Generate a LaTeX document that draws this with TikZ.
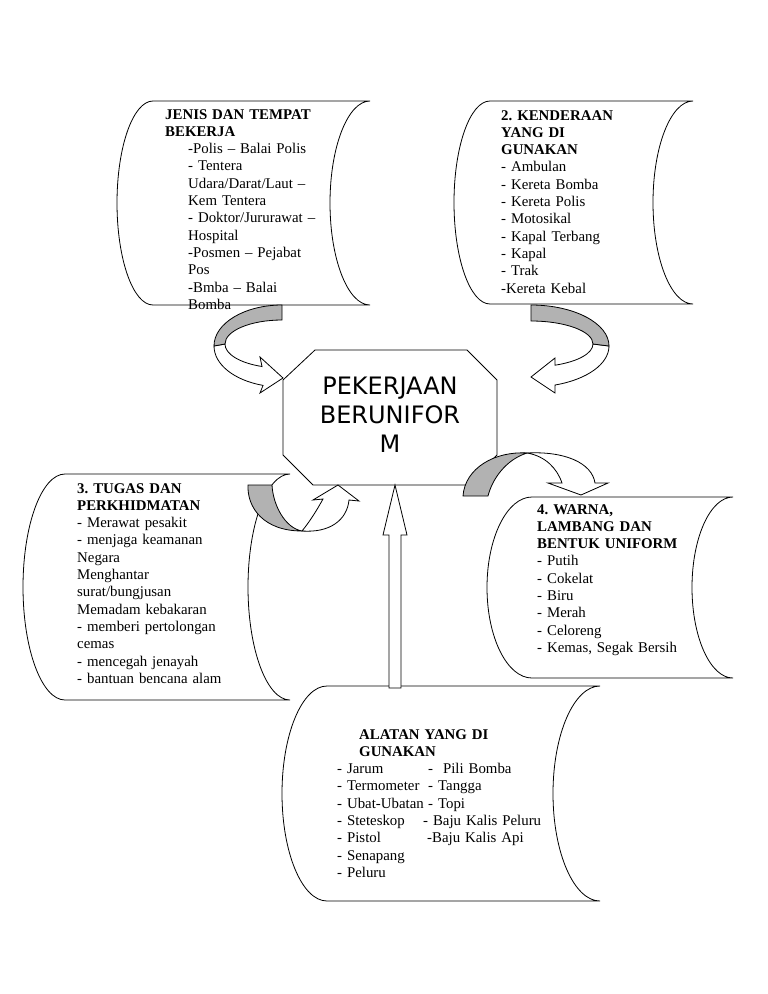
\documentclass[tikz,border=0pt]{standalone}
\usepackage{fontspec}
\setmainfont{Liberation Serif}
\newfontfamily\octfont{DejaVu Sans}
\frenchspacing
\definecolor{band}{RGB}{178,178,178}
\tikzset{
  shp/.style={draw=black, line width=0.8pt, fill=white, line join=miter},
  backband/.style={draw=black, line width=0.8pt, fill=band},
  txt/.style={anchor=base west, inner sep=0pt, text width=280pt, align=left,
              font=\fontsize{14.85}{17.3}\selectfont},
  octtxt/.style={anchor=base, inner sep=0pt, text width=210pt, align=center,
              font=\octfont\fontsize{24}{29}\selectfont},
}
% #1 corner x, #2 right x, #3 top y, #4 bottom y, #5 left bulge, #6 right bulge
\newcommand\scrollshape[6]{%
  \draw[shp] (#1,#3) -- (#2,#3)
    arc[start angle=270, end angle=90, x radius=#6, y radius={(#4-#3)/2}]
    -- (#1,#4)
    arc[start angle=90, end angle=270, x radius=#5, y radius={(#4-#3)/2}]
    -- cycle;}
\begin{document}
\begin{tikzpicture}[x=1pt,y=-1pt]
\useasboundingbox (0,0) rectangle (768,994);
\fill[white] (0,0) rectangle (768,994);

% scrolls
\scrollshape{153}{370}{101}{305}{36}{40}
\scrollshape{490}{693}{101}{304}{36}{40}
\scrollshape{65}{290}{474}{700}{42}{42}
\scrollshape{532}{733}{497}{678}{45}{41}
\scrollshape{327}{600}{686}{901}{45}{47}

% central octagon
\draw[shp] (315,350) -- (467,350) -- (497,380) -- (497,455) -- (467,485)
  -- (313,485) -- (283,455) -- (283,380) -- cycle;

% curved arrow 1 (top left)
\draw[shp] (214,346) arc[start angle=180, end angle=106.2, x radius=68, y radius=41]
  -- (260,393) -- (283,378) -- (260,357) -- (262,366.5)
  arc[start angle=110.5, end angle=180, x radius=57, y radius=24] -- cycle;
\draw[backband] (282,305) arc[start angle=270, end angle=180, x radius=68, y radius=41]
  -- (225,344) arc[start angle=180, end angle=270, x radius=57, y radius=24] -- cycle;

% curved arrow 2 (top right)
\draw[shp] (609,346) arc[start angle=0, end angle=72, x radius=78, y radius=41]
  -- (555,393) -- (531,377) -- (555,358) -- (555,365.2)
  arc[start angle=67.2, end angle=0, x radius=62, y radius=23] -- cycle;
\draw[backband] (531,305) arc[start angle=270, end angle=360, x radius=78, y radius=41]
  -- (593,344) arc[start angle=360, end angle=270, x radius=62, y radius=23] -- cycle;

% curved arrow 3 (left, pointing up)
\draw[backband] (248,485) -- (272,485) .. controls (273,505) and (285,528) .. (302,531)
  .. controls (264,531) and (247,508) .. (248,485) -- cycle;
\draw[shp] (302,531) .. controls (311,520) and (318,508) .. (323,499)
  -- (313,500) -- (338,485) -- (359,501) -- (349,500)
  .. controls (347,520) and (330,533) .. (302,531) -- cycle;

% curved arrow 4 (right, pointing down)
\draw[backband] (463,496) -- (488,496) .. controls (492,480) and (505,460) .. (527,453)
  .. controls (495,451) and (465,468) .. (463,496) -- cycle;
\draw[shp] (527,453) .. controls (565,451) and (592,463) .. (595,483)
  -- (608,483) -- (581,495) -- (548,483) -- (562,483)
  .. controls (557,468) and (545,456) .. (527,453) -- cycle;

% straight arrow up
\draw[shp] (389,688) -- (389,535) -- (383,535) -- (395,485) -- (407,535)
  -- (401,535) -- (401,688) -- cycle;

% texts
\node[octtxt] (oct) at (390,394) {PEKERJAAN\\BERUNIFOR\\M};

\node[txt] (ta) at (165,119) {\textbf{JENIS DAN TEMPAT}\\
\textbf{BEKERJA}\\
\hspace*{23pt}-Polis – Balai Polis\\
\hspace*{23pt}- Tentera\\
\hspace*{23pt}Udara/Darat/Laut –\\
\hspace*{23pt}Kem Tentera\\
\hspace*{23pt}- Doktor/Jururawat –\\
\hspace*{23pt}Hospital\\
\hspace*{23pt}-Posmen – Pejabat\\
\hspace*{23pt}Pos\\
\hspace*{23pt}-Bmba – Balai\\
\hspace*{23pt}Bomba};

\node[txt] (tb) at (501,120) {\textbf{2. KENDERAAN}\\
\textbf{YANG DI}\\
\textbf{GUNAKAN}\\
- Ambulan\\
- Kereta Bomba\\
- Kereta Polis\\
- Motosikal\\
- Kapal Terbang\\
- Kapal\\
- Trak\\
-Kereta Kebal};

\node[txt] (tc) at (77,493) {\textbf{3. TUGAS DAN}\\
\textbf{PERKHIDMATAN}\\
- Merawat pesakit\\
- menjaga keamanan\\
Negara\\
Menghantar\\
surat/bungjusan\\
Memadam kebakaran\\
- memberi pertolongan\\
cemas\\
- mencegah jenayah\\
- bantuan bencana alam};

\node[txt] (td) at (537,514) {\textbf{4. WARNA,}\\
\textbf{LAMBANG DAN}\\
\textbf{BENTUK UNIFORM}\\
- Putih\\
- Cokelat\\
- Biru\\
- Merah\\
- Celoreng\\
- Kemas, Segak Bersih};

\node[txt] (te) at (337,739) {\hspace*{22pt}\textbf{ALATAN YANG DI}\\
\hspace*{22pt}\textbf{GUNAKAN}\\
\makebox[91pt][l]{- Jarum}-\ \ Pili Bomba\\
\makebox[91pt][l]{- Termometer}- Tangga\\
\makebox[91pt][l]{- Ubat-Ubatan}- Topi\\
\makebox[86pt][l]{- Steteskop}- Baju Kalis Peluru\\
\makebox[90pt][l]{- Pistol}-Baju Kalis Api\\
- Senapang\\
- Peluru};
\end{tikzpicture}
\end{document}
